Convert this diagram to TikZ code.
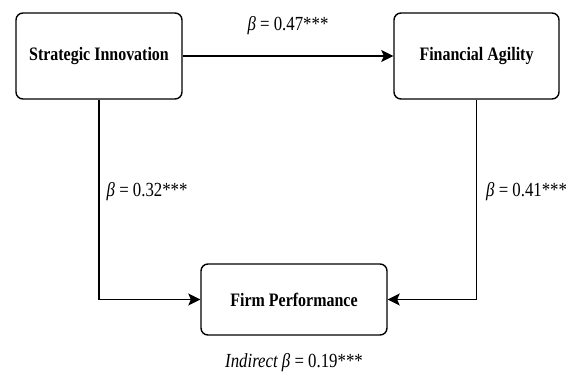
\documentclass[tikz,border=0pt]{standalone}
\usepackage{fontspec}
\setmainfont{Liberation Serif}[FakeStretch=0.84]
\usetikzlibrary{arrows.meta,positioning}

\begin{document}
\begin{tikzpicture}[x=1pt,y=1pt,
  box/.style={draw,line width=1.4pt,rounded corners=7pt,align=center,font=\fontsize{19}{22}\selectfont\bfseries,inner sep=0pt},
  arr/.style={-{Stealth[length=12pt,width=12pt,inset=2.5pt]},line width=1.4pt},
  lab/.style={font=\fontsize{20}{23}\selectfont,inner sep=0pt}]
\useasboundingbox (0,0) rectangle (579,376);
\node[box,minimum width=166pt,minimum height=86pt] (si) at (99,320) {Strategic Innovation};
\node[box,minimum width=165pt,minimum height=86pt] (fa) at (476.5,320) {Financial Agility};
\node[box,minimum width=186pt,minimum height=71pt] (fp) at (294,76.5) {Firm Performance};
\draw[arr] (si) -- node[lab,above=21pt]{\textit{β} = 0.47***} (fa);
\draw[arr] (si.south) |- node[lab,pos=0.23,right=7pt]{\textit{β} = 0.32***} (fp.west);
\draw[arr] (fa.south) |- node[lab,pos=0.23,right=9pt]{\textit{β} = 0.41***} (fp.east);
\node[lab,below=18pt of fp] (ind) {\textit{Indirect β} = 0.19***};
\end{tikzpicture}
\end{document}
